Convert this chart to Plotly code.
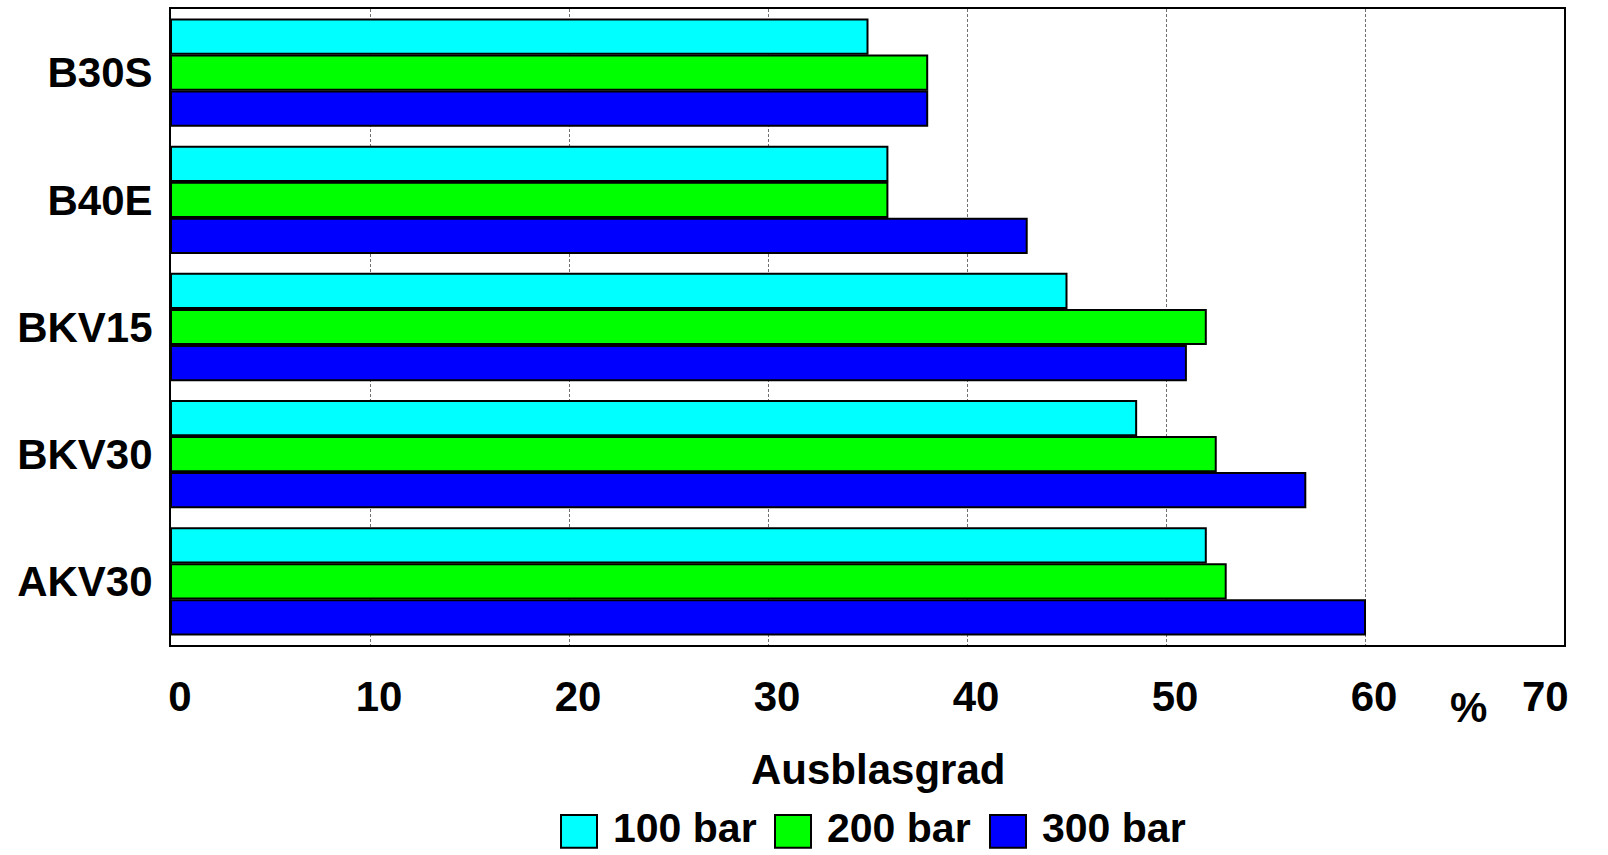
import plotly.graph_objects as go

categories = ["B30S", "B40E", "BKV15", "BKV30", "AKV30"]
series_names = ["100 bar", "200 bar", "300 bar"]
values_100 = [35, 36, 45, 48.5, 52]
values_200 = [38, 36, 52, 52.5, 53]
values_300 = [38, 43, 51, 57, 60]
series_values = [values_100, values_200, values_300]
colors = ["#00FFFF", "#00FF00", "#0000FF"]
x_tick_vals = [0, 10, 20, 30, 40, 50, 60]

FONT = "Liberation Sans, Arial, sans-serif"
FS = 42

# plot area in pixels
L, R, T, B = 171, 1564, 7, 645
PW, PH = R - L, B - T

fig = go.Figure()
for name, vals, col in zip(series_names, series_values, colors):
    fig.add_trace(go.Bar(
        y=categories, x=vals, name=name, orientation="h",
        marker=dict(color=col, line=dict(color="black", width=2)),
        showlegend=False,
    ))

fig.update_layout(
    width=1608, height=855,
    margin=dict(l=L, r=1608 - R, t=T, b=855 - B),
    paper_bgcolor="white", plot_bgcolor="white",
    barmode="group", bargap=0.15, bargroupgap=0.05,
    font=dict(family=FONT, size=FS, color="black", weight="bold"),
)
fig.update_xaxes(
    range=[0, 70], tickvals=x_tick_vals, ticktext=[str(v) for v in x_tick_vals],
    showgrid=True, griddash="3px,2px", gridcolor="#707070", gridwidth=1,
    showline=True, mirror=True, linecolor="black", linewidth=2,
    ticks="", ticklabelshift=9, ticklabelstandoff=14,
    tickfont=dict(family=FONT, size=FS, weight="bold"),
    zeroline=False,
)
fig.update_yaxes(
    autorange="reversed", showgrid=False,
    showline=True, mirror=True, linecolor="black", linewidth=2,
    ticks="", ticklabelstandoff=8,
    tickfont=dict(family=FONT, size=FS, weight="bold"),
)

# extra axis labels
fig.add_annotation(x=70, y=0, xref="x", yref="paper", yanchor="top", xshift=-19, yshift=-26,
                   text="70", showarrow=False, font=dict(family=FONT, size=FS, weight="bold"))
fig.add_annotation(x=65, y=0, xref="x", yref="paper", yanchor="top", xshift=4, yshift=-37,
                   text="%", showarrow=False, font=dict(family=FONT, size=FS, weight="bold"))
fig.add_annotation(x=0.5, y=0, xref="paper", yref="paper", yanchor="middle", xshift=10, yshift=-124,
                   text="Ausblasgrad", showarrow=False, font=dict(family=FONT, size=FS, weight="bold"))

# custom legend (swatches + labels)
legend_swatch_x = [561, 775, 990]
sw_w, sw_h = 36, 33
leg_y = 832


def px(v):
    return (v - L) / PW


def py(v):
    return (B - v) / PH


for i, (name, col) in enumerate(zip(series_names, colors)):
    x0 = legend_swatch_x[i]
    fig.add_shape(type="rect", xref="paper", yref="paper",
                  x0=px(x0), x1=px(x0 + sw_w), y0=py(leg_y + sw_h / 2), y1=py(leg_y - sw_h / 2),
                  line=dict(color="black", width=2), fillcolor=col)
    fig.add_annotation(x=px(x0 + sw_w + 14), y=py(854), xref="paper", yref="paper",
                       xanchor="left", yanchor="bottom", text=name, showarrow=False,
                       font=dict(family=FONT, size=41, weight="bold"))

fig.write_html("out.html")
